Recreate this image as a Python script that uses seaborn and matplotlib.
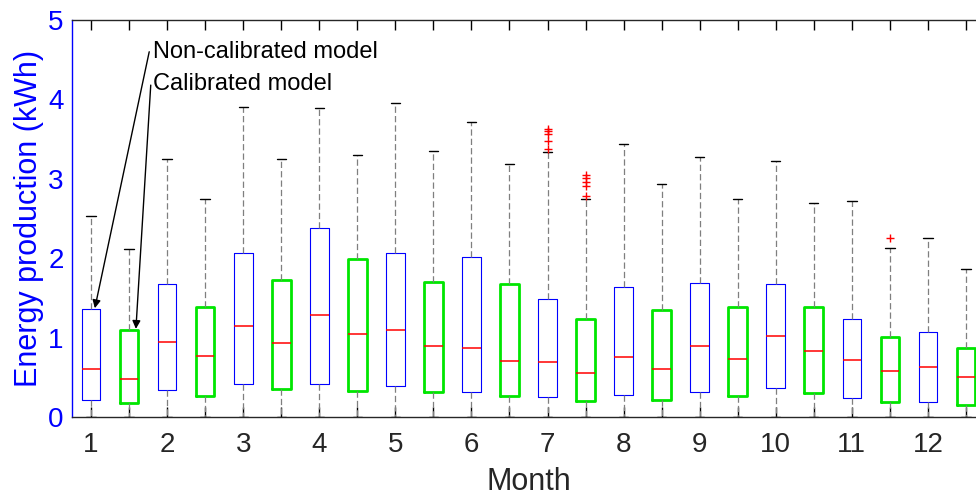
import numpy as np
import pandas as pd
import matplotlib
matplotlib.use("Agg")
import matplotlib.pyplot as plt
import seaborn as sns

# ---------------- data ----------------
months = list(range(1, 13))

noncal_q1 = [0.21, 0.34, 0.42, 0.41, 0.39, 0.31, 0.25, 0.28, 0.32, 0.37, 0.24, 0.19]
noncal_med = [0.60, 0.95, 1.14, 1.29, 1.10, 0.87, 0.69, 0.75, 0.89, 1.02, 0.72, 0.63]
noncal_q3 = [1.36, 1.68, 2.07, 2.38, 2.06, 2.02, 1.49, 1.64, 1.69, 1.67, 1.24, 1.07]
noncal_whi = [2.53, 3.25, 3.90, 3.89, 3.95, 3.72, 3.34, 3.44, 3.28, 3.23, 2.72, 2.25]
noncal_wlo = [0.0] * 12

cal_q1 = [0.18, 0.27, 0.35, 0.33, 0.31, 0.26, 0.20, 0.22, 0.26, 0.30, 0.19, 0.15]
cal_med = [0.48, 0.77, 0.93, 1.05, 0.90, 0.71, 0.56, 0.61, 0.73, 0.83, 0.58, 0.51]
cal_q3 = [1.09, 1.39, 1.72, 1.99, 1.70, 1.68, 1.23, 1.35, 1.39, 1.39, 1.01, 0.87]
cal_whi = [2.12, 2.75, 3.25, 3.30, 3.35, 3.19, 2.75, 2.94, 2.75, 2.70, 2.13, 1.86]
cal_wlo = [0.0] * 12

noncal_out_month = [7, 7, 7, 7, 7]
noncal_out_val = [3.38, 3.48, 3.56, 3.60, 3.63]
cal_out_month = [7, 7, 7, 7, 7, 11]
cal_out_val = [2.78, 2.91, 2.96, 3.01, 3.05, 2.25]

models = ["Non-calibrated model", "Calibrated model"]
tick_labels = [str(m) for m in months]

# ---------------- build long-form table ----------------
rows = []
for k, (wlo, q1, med, q3, whi) in enumerate([
        (noncal_wlo, noncal_q1, noncal_med, noncal_q3, noncal_whi),
        (cal_wlo, cal_q1, cal_med, cal_q3, cal_whi)]):
    for i, m in enumerate(months):
        pos = 2 * (m - 1) + k
        for v in (wlo[i], q1[i], med[i], q3[i], whi[i]):
            rows.append({"pos": pos, "value": v, "model": models[k]})
df = pd.DataFrame(rows)

out_df = pd.DataFrame({
    "pos": [2 * (m - 1) for m in noncal_out_month] + [2 * (m - 1) + 1 for m in cal_out_month],
    "value": noncal_out_val + cal_out_val,
})

# ---------------- style ----------------
sns.set_style("white")
plt.rcParams["font.family"] = ["Liberation Sans", "DejaVu Sans"]

W, H = 976, 497
fig = plt.figure(figsize=(W / 100, H / 100), dpi=100)
ax = fig.add_axes([72 / W, 80 / H, (985 - 72) / W, (417 - 20) / H])

order = list(range(24))
common = dict(x="pos", y="value", order=order, fill=False, width=0.49,
              whis=1.5, showfliers=False, ax=ax,
              medianprops={"color": "red", "linewidth": 1.1},
              whiskerprops={"color": "#7f7f7f", "linewidth": 0.9,
                            "linestyle": (0, (5, 2.5))},
              capprops={"color": "black", "linewidth": 1.0})

sns.boxplot(data=df[df["model"] == models[0]], color="blue", linewidth=0.8,
            boxprops={"color": "blue", "linewidth": 0.8}, **common)
sns.boxplot(data=df[df["model"] == models[1]], color="#00e000", linewidth=2.0,
            boxprops={"color": "#00e600", "linewidth": 2.0}, **common)

sns.scatterplot(data=out_df, x="pos", y="value", marker="+", color="red",
                s=30, linewidth=1.0, ax=ax, legend=False, zorder=5)

# ---------------- axes ----------------
ax.set_xlim(-0.5, 23.5)
ax.set_ylim(0, 5)
ax.set_xticks(order)
ax.set_xticklabels([tick_labels[i // 2] if i % 2 == 0 else "" for i in order])
ax.set_yticks(range(6))

ax.tick_params(axis="x", which="both", top=True, bottom=True, direction="in",
               length=7, width=1, labelsize=20, labelcolor="#262626", pad=11,
               color="black")
ax.tick_params(axis="y", direction="in", length=6, width=1, labelsize=20,
               colors="blue", pad=6)

for s in ["top", "bottom", "right"]:
    ax.spines[s].set_color("#262626")
    ax.spines[s].set_linewidth(1)
ax.spines["left"].set_color("blue")
ax.spines["left"].set_linewidth(1)

ax.set_xlabel("Month", fontsize=22, color="#262626", labelpad=6)
ax.set_ylabel("Energy production (kWh)", fontsize=22, color="blue", labelpad=3)

# ---------------- annotations ----------------
ax.text(1.62, 4.60, models[0], fontsize=17, ha="left", va="center", color="black")
ax.text(1.62, 4.20, models[1], fontsize=17, ha="left", va="center", color="black")
arrow = dict(arrowstyle="-|>", color="black", lw=1, mutation_scale=12,
             shrinkA=0, shrinkB=0)
ax.annotate("", xy=(0.10, noncal_q3[0] + 0.01), xytext=(1.53, 4.60), arrowprops=arrow)
ax.annotate("", xy=(1.18, cal_q3[0] + 0.02), xytext=(1.57, 4.18), arrowprops=arrow)

fig.savefig("out.png", dpi=100)
